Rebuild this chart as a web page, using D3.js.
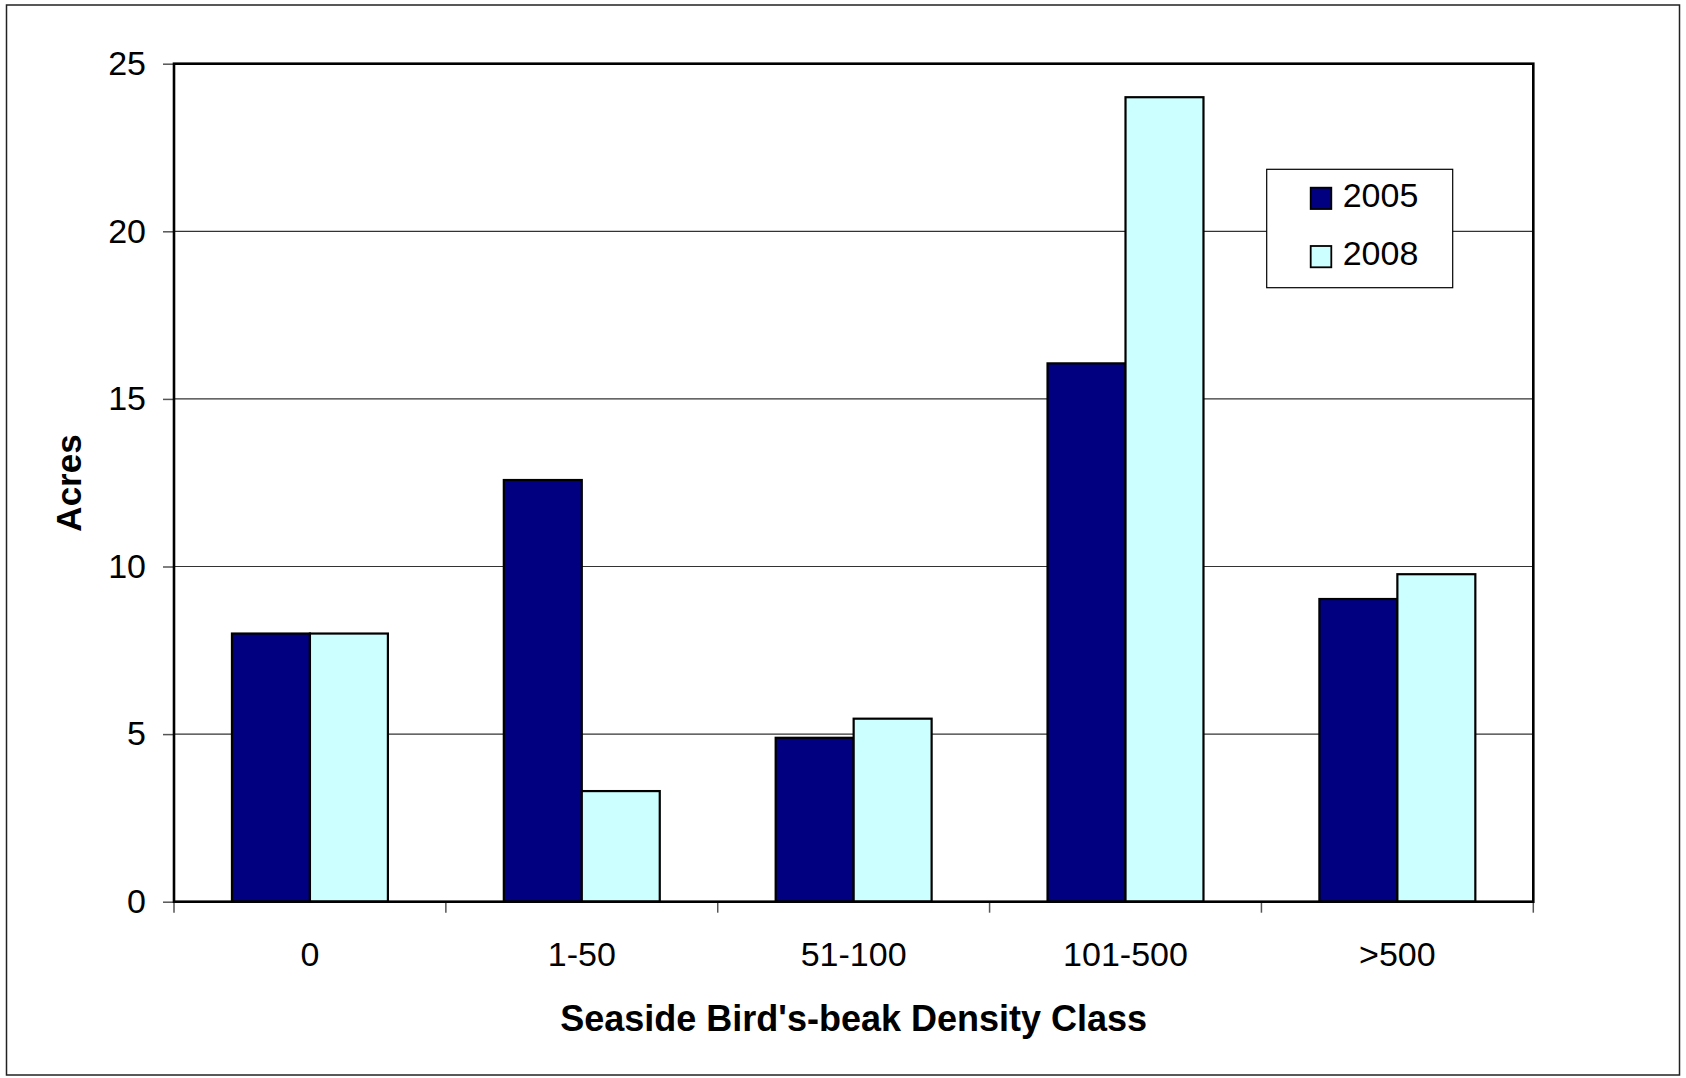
<!DOCTYPE html>
<html>
<head>
<meta charset="utf-8">
<script src="https://cdnjs.cloudflare.com/ajax/libs/d3/7.8.5/d3.min.js"></script>
<style>
  html, body { margin: 0; padding: 0; background: #ffffff; }
  svg { display: block; font-family: "Liberation Sans", Arial, sans-serif; }
</style>
</head>
<body>
<svg id="chart" width="1686" height="1078"></svg>
<script>
// Acreage by Seaside Bird's-beak density class, two survey years
const categories = ["0", "1-50", "51-100", "101-500", ">500"];
const seriesNames = ["2005", "2008"];
const values2005 = [8.0, 12.58, 4.89, 16.06, 9.03];
const values2008 = [8.0, 3.30, 5.46, 24.0, 9.77];
const yTicks = [0, 5, 10, 15, 20, 25];
const seriesColors = ["#000080", "#CCFFFF"];

const rows = categories.map((c, i) => ({ cat: c, vals: [values2005[i], values2008[i]] }));

const svg = d3.select("#chart");
const W = 1686, H = 1078;
const margin = { left: 174, right: 1686 - 1533.3, top: 63.7, bottom: 1078 - 901.7 };
const innerW = W - margin.left - margin.right;
const innerH = H - margin.top - margin.bottom;

// outer chart border
svg.append("rect")
  .attr("x", 6.5).attr("y", 5).attr("width", 1673).attr("height", 1070)
  .attr("fill", "#fff").attr("stroke", "#222").attr("stroke-width", 1.5);

const g = svg.append("g").attr("transform", `translate(${margin.left},${margin.top})`);

const x = d3.scaleBand().domain(categories).range([0, innerW]).paddingInner(0.4264).paddingOuter(0.2132);
const xs = d3.scaleBand().domain(seriesNames).range([0, x.bandwidth()]);
const y = d3.scaleLinear().domain([0, 25]).range([innerH, 0]);

// horizontal gridlines
g.append("g").selectAll("line").data(yTicks.filter(t => t > 0 && t < 25)).join("line")
  .attr("x1", 0).attr("x2", innerW)
  .attr("y1", d => y(d)).attr("y2", d => y(d))
  .attr("stroke", "#333").attr("stroke-width", 1.2);

// bars
const groups = g.append("g").selectAll("g").data(rows).join("g")
  .attr("transform", d => `translate(${x(d.cat)},0)`);
groups.selectAll("rect").data(d => d.vals.map((v, k) => ({ v, k }))).join("rect")
  .attr("x", d => xs(seriesNames[d.k]))
  .attr("y", d => y(d.v))
  .attr("width", xs.bandwidth())
  .attr("height", d => y(0) - y(d.v))
  .attr("fill", d => seriesColors[d.k])
  .attr("stroke", "#000").attr("stroke-width", 2.2);

// y axis
const yAxis = g.append("g")
  .call(d3.axisLeft(y).tickValues(yTicks).tickSize(11).tickPadding(17).tickFormat(d3.format("d")));
yAxis.select(".domain").remove();
yAxis.selectAll(".tick line").attr("stroke", "#555").attr("stroke-width", 1.5);
yAxis.selectAll(".tick text").attr("font-size", 34).attr("fill", "#000")
  .attr("font-family", "'Liberation Sans', Arial, sans-serif");

// x axis: ticks on category boundaries
const bounds = d3.range(categories.length + 1).map(i => i * innerW / categories.length);
g.append("g").selectAll("line").data(bounds).join("line")
  .attr("x1", d => d).attr("x2", d => d)
  .attr("y1", innerH).attr("y2", innerH + 11)
  .attr("stroke", "#555").attr("stroke-width", 1.5);
g.append("g").selectAll("text").data(categories).join("text")
  .attr("x", d => x(d) + x.bandwidth() / 2)
  .attr("y", innerH + 64)
  .attr("text-anchor", "middle")
  .attr("font-size", 34)
  .attr("fill", "#000")
  .text(d => d);

// plot frame
g.append("rect")
  .attr("x", 0).attr("y", 0).attr("width", innerW).attr("height", innerH)
  .attr("fill", "none").attr("stroke", "#000").attr("stroke-width", 2.6);

// axis titles
svg.append("text")
  .attr("x", (margin.left + 1533.3) / 2)
  .attr("y", 1031)
  .attr("text-anchor", "middle")
  .attr("font-size", 36).attr("font-weight", "bold").attr("fill", "#000")
  .text("Seaside Bird's-beak Density Class");

svg.append("text")
  .attr("transform", `translate(81,${483}) rotate(-90)`)
  .attr("text-anchor", "middle")
  .attr("font-size", 35).attr("font-weight", "bold").attr("fill", "#000")
  .text("Acres");

// legend
const legend = svg.append("g").attr("transform", "translate(1266.7,169.3)");
legend.append("rect")
  .attr("x", 0).attr("y", 0).attr("width", 186).attr("height", 118.4)
  .attr("fill", "#fff").attr("stroke", "#000").attr("stroke-width", 1.2);
const items = legend.selectAll("g.item").data(seriesNames).join("g")
  .attr("class", "item")
  .attr("transform", (d, i) => `translate(44,${18.4 + i * 58.3})`);
items.append("rect")
  .attr("width", 20.6).attr("height", 21.3)
  .attr("fill", (d, i) => seriesColors[i])
  .attr("stroke", "#000").attr("stroke-width", 1.8);
items.append("text")
  .attr("x", 32).attr("y", 19)
  .attr("font-size", 34).attr("fill", "#000")
  .text(d => d);
</script>
</body>
</html>
